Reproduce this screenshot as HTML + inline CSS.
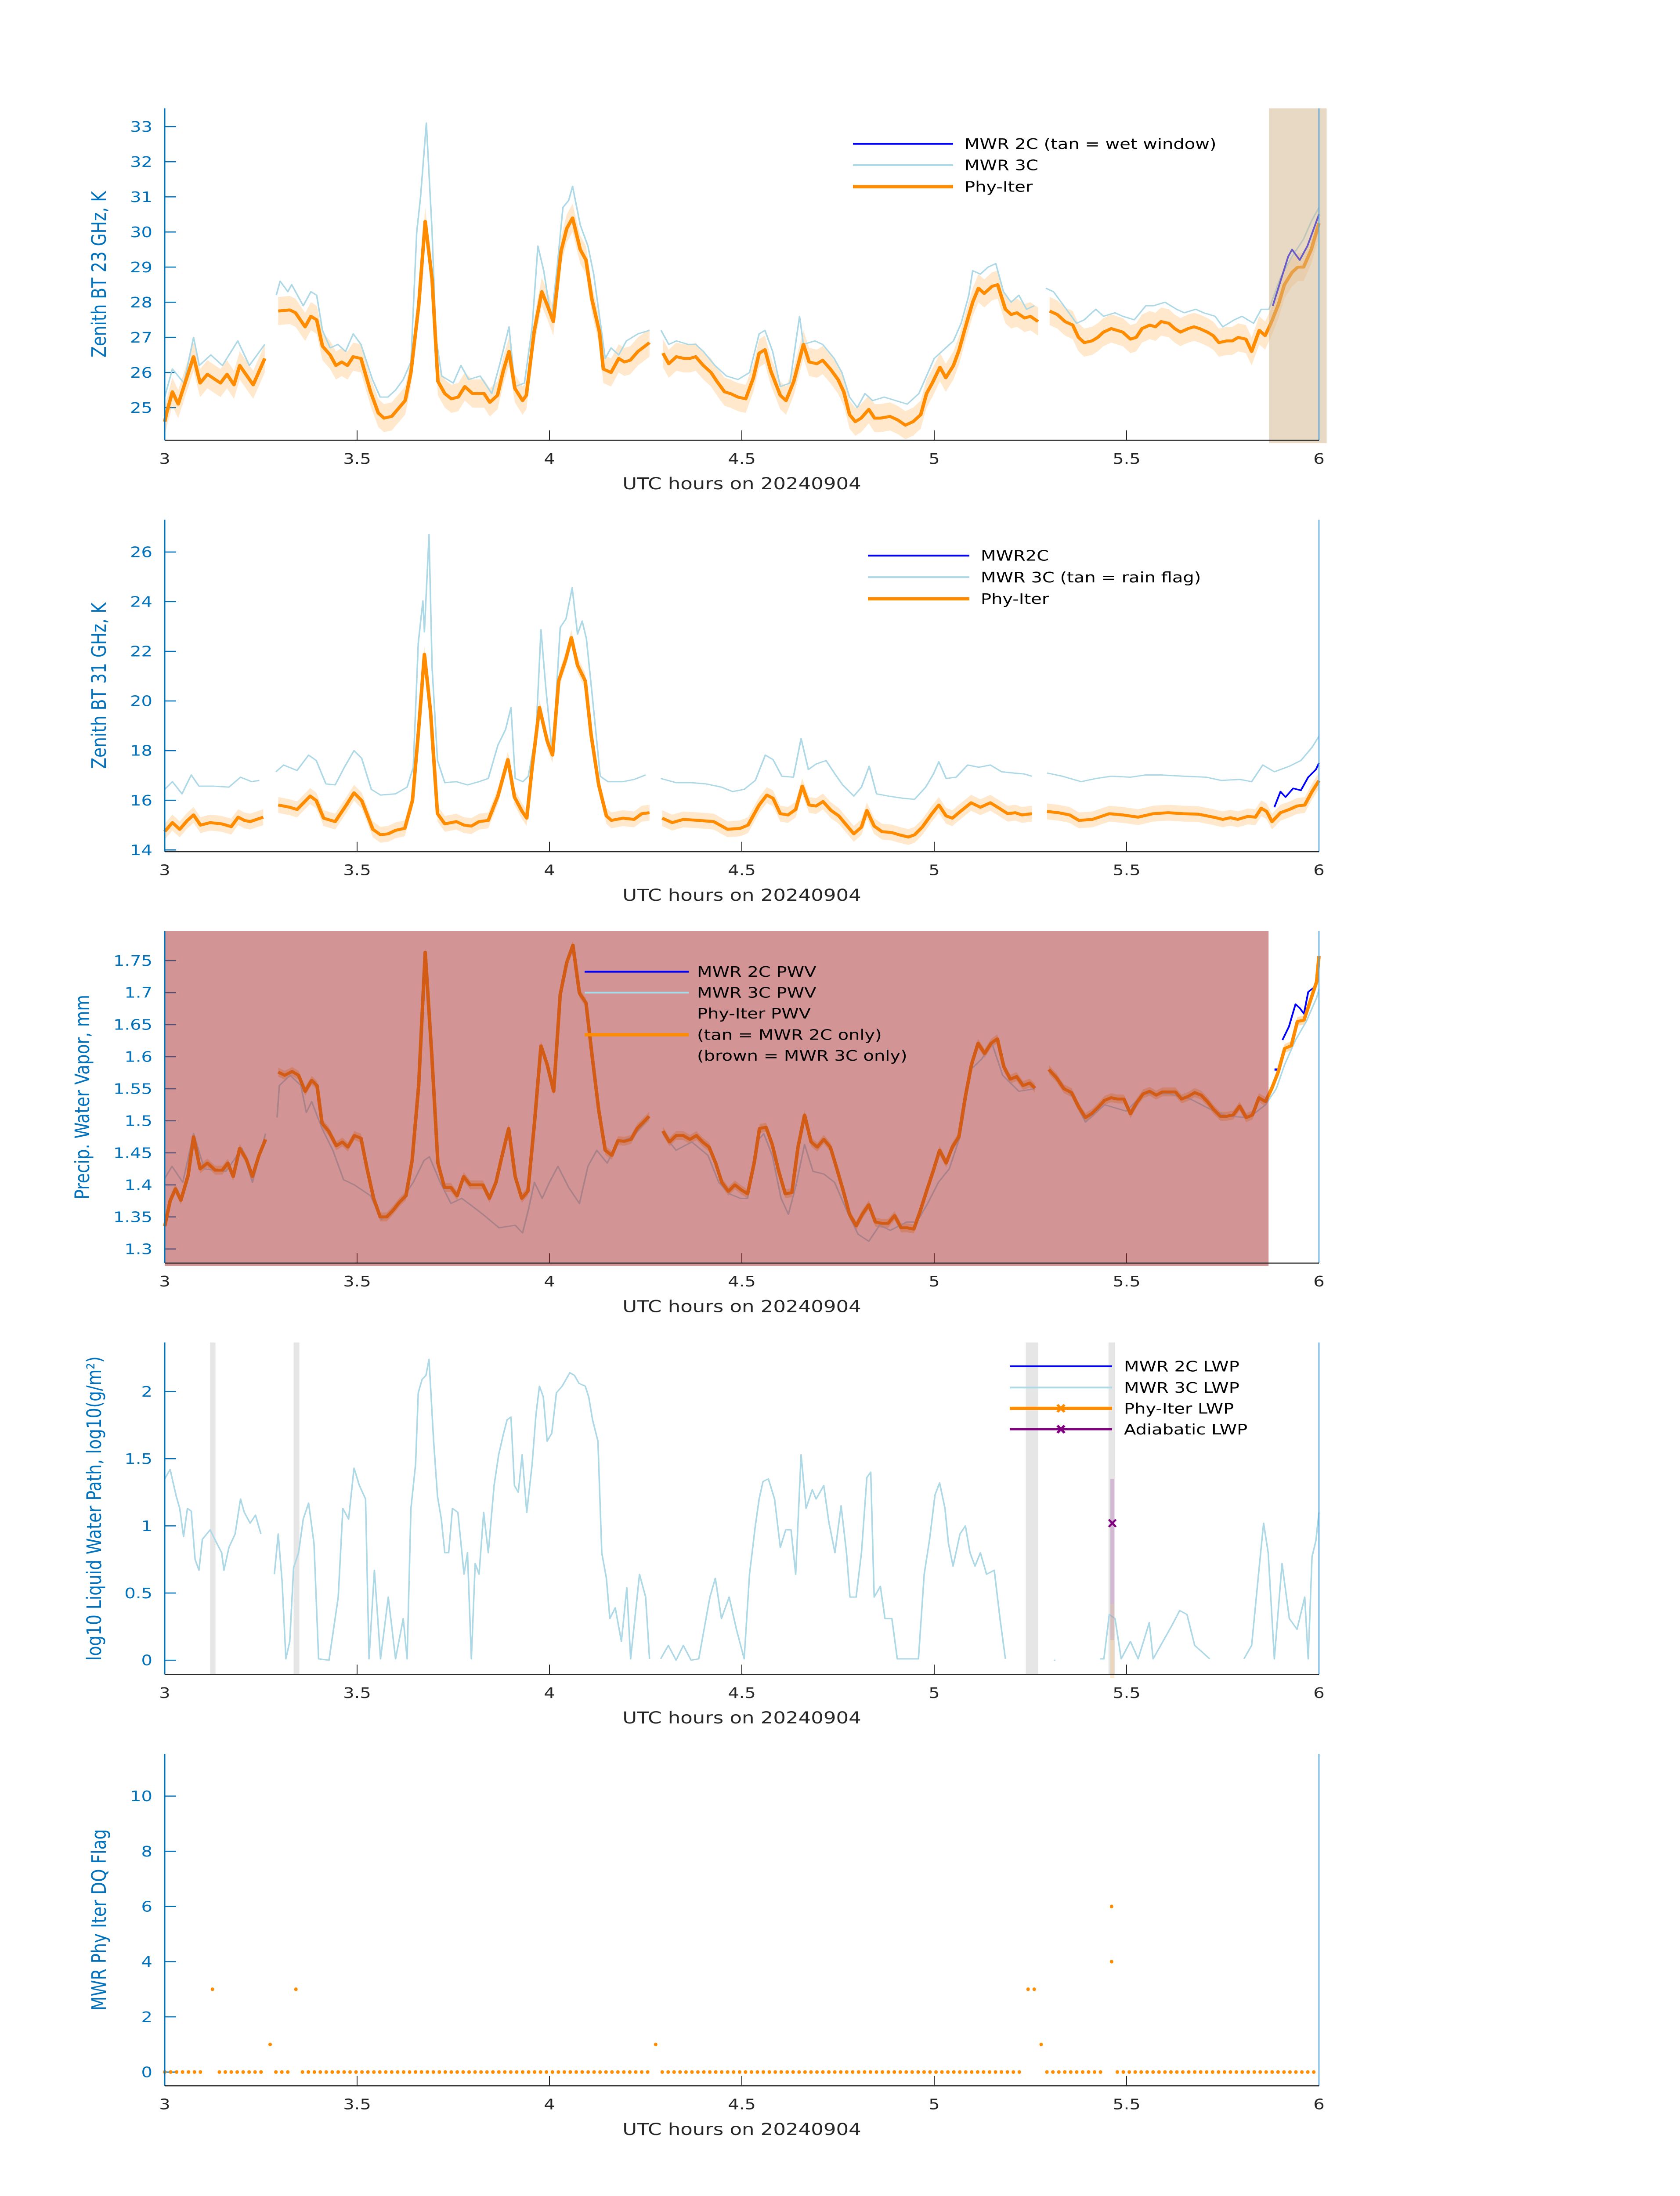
<!DOCTYPE html>
<html><head><meta charset="utf-8"><title>MWR retrieval time series 20240904</title>
<style>
html,body{margin:0;padding:0;background:#fff;width:100%;height:100%;overflow:hidden;}
svg{display:block;width:100vw;height:100vh;font-family:"DejaVu Sans","Liberation Sans",sans-serif;}
</style></head>
<body>
<svg id="fig" xmlns="http://www.w3.org/2000/svg" viewBox="0 0 3825 6000" preserveAspectRatio="none">
<rect x="0" y="0" width="3825" height="6000" fill="#ffffff"/>
</svg>
<script>
// ---------------- DATA ----------------
// Panel 1: 23 GHz BT (K)
const p1PhyT=[3.0,3.005,3.02,3.035,3.075,3.092,3.111,3.145,3.162,3.18,3.195,3.23,3.26,null,3.295,3.325,3.34,3.365,3.38,3.395,3.41,3.43,3.445,3.46,3.475,3.49,3.51,3.535,3.555,3.57,3.59,3.625,3.64,3.66,3.677,3.695,3.71,3.728,3.745,3.763,3.78,3.8,3.83,3.845,3.865,3.88,3.895,3.91,3.93,3.94,3.96,3.98,3.995,4.01,4.03,4.045,4.06,4.08,4.095,4.11,4.13,4.14,4.16,4.18,4.195,4.21,4.23,4.26,null,4.295,4.31,4.33,4.35,4.365,4.38,4.4,4.42,4.435,4.455,4.47,4.49,4.51,4.53,4.545,4.56,4.575,4.6,4.615,4.635,4.66,4.675,4.695,4.71,4.73,4.75,4.765,4.78,4.795,4.81,4.83,4.845,4.86,4.885,4.905,4.925,4.945,4.965,4.98,4.995,5.015,5.03,5.05,5.065,5.08,5.1,5.115,5.13,5.15,5.165,5.185,5.2,5.215,5.235,5.25,5.27,null,5.3,5.32,5.34,5.36,5.375,5.39,5.41,5.425,5.44,5.46,5.475,5.49,5.51,5.525,5.54,5.56,5.575,5.59,5.61,5.625,5.64,5.66,5.675,5.69,5.71,5.725,5.74,5.76,5.775,5.79,5.81,5.825,5.845,5.86,5.875,5.895,5.91,5.93,5.945,5.96,5.98,6.0];
const p1PhyV=[24.6,24.85,25.45,25.1,26.45,25.7,25.95,25.7,25.95,25.65,26.2,25.65,26.4,null,27.75,27.78,27.7,27.3,27.6,27.5,26.75,26.5,26.2,26.3,26.2,26.45,26.4,25.45,24.85,24.7,24.75,25.2,26.0,27.9,30.3,28.65,25.75,25.4,25.25,25.3,25.6,25.4,25.4,25.15,25.35,26.05,26.6,25.55,25.2,25.35,27.15,28.3,27.9,27.45,29.45,30.1,30.4,29.5,29.2,28.1,27.15,26.1,26.0,26.4,26.3,26.35,26.6,26.85,null,26.55,26.25,26.45,26.4,26.4,26.45,26.2,26.0,25.75,25.45,25.4,25.3,25.25,25.85,26.55,26.65,26.05,25.35,25.2,25.75,26.8,26.3,26.25,26.35,26.1,25.8,25.45,24.8,24.6,24.7,24.95,24.7,24.7,24.75,24.65,24.5,24.6,24.8,25.4,25.7,26.15,25.85,26.2,26.65,27.25,28.0,28.4,28.25,28.45,28.5,27.8,27.65,27.7,27.55,27.6,27.45,null,27.75,27.65,27.45,27.35,27.0,26.85,26.9,27.0,27.15,27.25,27.2,27.15,26.95,27.0,27.25,27.35,27.3,27.45,27.4,27.25,27.15,27.25,27.3,27.25,27.15,27.05,26.85,26.9,26.9,27.0,26.95,26.6,27.2,27.05,27.4,27.95,28.5,28.85,29.0,29.0,29.5,30.25];
const p1M3T=[3.0,3.02,3.05,3.075,3.09,3.12,3.15,3.19,3.22,3.26,null,3.29,3.3,3.32,3.33,3.36,3.38,3.395,3.41,3.43,3.45,3.47,3.49,3.51,3.54,3.56,3.58,3.6,3.62,3.64,3.655,3.665,3.68,3.695,3.705,3.72,3.75,3.77,3.79,3.82,3.85,3.87,3.895,3.91,3.935,3.955,3.97,3.985,4.005,4.02,4.035,4.05,4.06,4.08,4.1,4.115,4.13,4.145,4.16,4.18,4.2,4.23,4.26,null,4.29,4.31,4.33,4.36,4.38,4.4,4.43,4.46,4.49,4.52,4.545,4.56,4.58,4.6,4.625,4.65,4.66,4.69,4.71,4.74,4.76,4.78,4.8,4.82,4.84,4.87,4.9,4.93,4.96,4.98,5.0,5.02,5.05,5.07,5.09,5.1,5.12,5.14,5.16,5.18,5.2,5.22,5.24,5.26,null,5.29,5.31,5.33,5.35,5.37,5.39,5.42,5.44,5.47,5.49,5.52,5.55,5.57,5.6,5.63,5.65,5.68,5.7,5.73,5.75,5.78,5.8,5.83,5.85,5.87,5.9,5.93,5.96,5.98,6.0];
const p1M3V=[25.3,26.1,25.7,27.0,26.2,26.5,26.2,26.9,26.2,26.8,null,28.2,28.6,28.3,28.5,27.9,28.3,28.2,27.2,26.7,26.8,26.6,27.1,26.8,25.8,25.3,25.3,25.5,25.8,26.3,30.0,31.0,33.1,30.0,27.0,25.9,25.7,26.2,25.8,25.9,25.4,26.2,27.3,25.6,25.7,27.3,29.6,28.9,27.5,29.0,30.7,30.9,31.3,30.2,29.6,28.8,27.6,26.4,26.7,26.5,26.9,27.1,27.2,null,27.2,26.8,26.9,26.8,26.8,26.6,26.2,25.9,25.8,26.0,27.1,27.2,26.6,25.6,25.7,27.6,26.8,26.9,26.8,26.4,26.0,25.3,25.0,25.4,25.2,25.3,25.2,25.1,25.4,25.9,26.4,26.6,26.9,27.4,28.2,28.9,28.8,29.0,29.1,28.3,28.0,28.2,27.8,27.9,null,28.4,28.3,28.0,27.7,27.4,27.5,27.8,27.6,27.7,27.6,27.5,27.9,27.9,28.0,27.8,27.7,27.8,27.7,27.6,27.3,27.5,27.6,27.4,27.8,27.8,28.7,29.3,29.8,30.3,30.7];
const p1M2T=[5.88,5.9,5.92,5.93,5.95,5.97,6.0];
const p1M2V=[27.9,28.6,29.3,29.5,29.2,29.6,30.5];
const p1WetWin=[5.87,6.02];

// Panel 2: 31 GHz BT (K)
const p2PhyT=[3.0,3.02,3.039,3.059,3.075,3.093,3.118,3.148,3.173,3.191,3.207,3.222,3.256,null,3.295,3.325,3.344,3.378,3.394,3.413,3.443,3.472,3.492,3.512,3.541,3.561,3.581,3.6,3.624,3.644,3.659,3.675,3.691,3.709,3.728,3.758,3.778,3.797,3.817,3.841,3.866,3.892,3.909,3.929,3.941,3.955,3.974,3.994,4.008,4.024,4.043,4.057,4.073,4.093,4.108,4.128,4.148,4.161,4.191,4.22,4.24,4.26,null,4.293,4.319,4.348,4.388,4.427,4.463,4.496,4.516,4.545,4.565,4.581,4.6,4.62,4.64,4.657,4.675,4.693,4.711,4.732,4.752,4.772,4.791,4.811,4.825,4.844,4.864,4.89,4.909,4.933,4.949,4.969,4.994,5.012,5.031,5.047,5.071,5.096,5.12,5.146,5.169,5.191,5.211,5.228,5.254,null,5.293,5.323,5.352,5.376,5.411,5.455,5.49,5.53,5.569,5.608,5.648,5.687,5.726,5.75,5.77,5.789,5.815,5.835,5.85,5.864,5.878,5.9,5.923,5.943,5.963,5.982,6.0];
const p2PhyV=[14.74,15.1,14.83,15.19,15.41,15.0,15.1,15.05,14.94,15.32,15.19,15.14,15.32,null,15.81,15.72,15.63,16.17,15.99,15.28,15.14,15.81,16.3,15.99,14.83,14.61,14.65,14.79,14.87,15.99,18.67,21.88,19.56,15.46,15.05,15.14,15.0,14.96,15.14,15.19,16.17,17.64,16.13,15.55,15.28,17.33,19.74,18.4,17.82,20.81,21.71,22.55,21.44,20.81,18.67,16.62,15.37,15.19,15.28,15.23,15.46,15.5,null,15.28,15.1,15.23,15.19,15.14,14.83,14.87,15.0,15.81,16.21,16.08,15.46,15.41,15.63,16.57,15.81,15.77,15.95,15.59,15.37,15.0,14.65,14.92,15.59,14.96,14.74,14.7,14.61,14.52,14.61,14.92,15.46,15.81,15.37,15.28,15.59,15.9,15.72,15.9,15.68,15.46,15.5,15.41,15.46,null,15.55,15.5,15.41,15.19,15.23,15.46,15.41,15.32,15.46,15.5,15.46,15.44,15.32,15.23,15.3,15.23,15.35,15.32,15.68,15.55,15.14,15.5,15.63,15.77,15.81,16.35,16.79];
const p2M3T=[3.0,3.02,3.045,3.069,3.089,3.128,3.167,3.197,3.226,3.246,null,3.289,3.309,3.344,3.374,3.394,3.419,3.443,3.467,3.492,3.512,3.537,3.561,3.6,3.63,3.646,3.659,3.671,3.675,3.687,3.695,3.709,3.728,3.758,3.787,3.817,3.841,3.866,3.886,3.9,3.911,3.931,3.945,3.965,3.978,3.99,4.008,4.028,4.043,4.059,4.073,4.085,4.096,4.112,4.132,4.152,4.191,4.22,4.25,null,4.289,4.329,4.368,4.407,4.447,4.476,4.506,4.535,4.561,4.581,4.604,4.634,4.654,4.673,4.693,4.719,4.742,4.762,4.791,4.811,4.831,4.85,4.88,4.919,4.949,4.978,4.998,5.012,5.031,5.057,5.087,5.116,5.146,5.175,5.205,5.234,5.254,null,5.293,5.333,5.382,5.421,5.461,5.51,5.549,5.589,5.648,5.707,5.746,5.795,5.825,5.854,5.884,5.923,5.953,5.982,6.0];
const p2M3V=[16.44,16.75,16.26,17.02,16.57,16.57,16.53,16.93,16.75,16.8,null,17.15,17.42,17.2,17.82,17.6,16.66,16.62,17.33,18.0,17.69,16.44,16.21,16.26,16.53,17.33,22.33,24.03,22.78,26.7,21.35,17.6,16.71,16.75,16.62,16.75,16.88,18.22,18.85,19.74,16.88,16.75,16.97,18.67,22.87,20.63,17.78,22.96,23.31,24.56,22.69,23.22,22.51,20.1,16.97,16.75,16.75,16.84,17.02,null,16.88,16.71,16.71,16.66,16.53,16.35,16.44,16.8,17.82,17.64,16.97,16.93,18.49,17.24,17.46,17.6,17.06,16.62,16.17,16.53,17.37,16.26,16.17,16.08,16.04,16.53,17.06,17.55,16.88,16.93,17.42,17.33,17.42,17.15,17.1,17.06,16.97,null,17.1,16.97,16.75,16.88,16.97,16.93,17.02,17.02,16.97,16.93,16.8,16.84,16.75,17.42,17.15,17.37,17.6,18.13,18.58];
const p2M2T=[5.884,5.9,5.913,5.933,5.953,5.972,5.992,6.0];
const p2M2V=[15.72,16.35,16.13,16.48,16.4,16.93,17.24,17.5];

// Panel 3: PWV (mm)
const p3PhyT=[3.0,3.014,3.028,3.042,3.061,3.075,3.092,3.111,3.131,3.15,3.164,3.178,3.195,3.212,3.228,3.245,3.262,null,3.295,3.312,3.331,3.348,3.365,3.382,3.396,3.409,3.426,3.446,3.462,3.476,3.493,3.51,3.526,3.543,3.56,3.577,3.593,3.61,3.627,3.643,3.66,3.677,3.694,3.71,3.727,3.744,3.76,3.777,3.794,3.811,3.827,3.844,3.861,3.877,3.894,3.911,3.928,3.944,3.961,3.978,3.994,4.011,4.028,4.045,4.061,4.078,4.095,4.111,4.128,4.145,4.162,4.178,4.195,4.212,4.228,4.259,null,4.295,4.312,4.329,4.348,4.365,4.382,4.398,4.415,4.432,4.448,4.465,4.482,4.499,4.515,4.532,4.546,4.563,4.579,4.596,4.613,4.63,4.646,4.663,4.68,4.696,4.713,4.73,4.747,4.763,4.78,4.797,4.813,4.83,4.847,4.864,4.88,4.897,4.914,4.93,4.947,4.964,4.981,4.997,5.014,5.031,5.047,5.064,5.081,5.097,5.114,5.131,5.148,5.164,5.181,5.198,5.214,5.231,5.248,5.262,null,5.298,5.318,5.337,5.357,5.376,5.393,5.409,5.426,5.443,5.46,5.476,5.493,5.51,5.526,5.543,5.56,5.577,5.593,5.61,5.627,5.643,5.66,5.677,5.694,5.71,5.727,5.744,5.76,5.777,5.794,5.811,5.827,5.844,5.861,5.877,5.894,5.911,5.928,5.944,5.961,5.978,5.994,6.0];
const p3PhyV=[1.3355,1.375,1.394,1.376,1.415,1.475,1.425,1.434,1.423,1.423,1.434,1.413,1.457,1.44,1.413,1.446,1.471,null,1.576,1.571,1.577,1.571,1.546,1.563,1.555,1.496,1.484,1.461,1.467,1.459,1.477,1.473,1.425,1.379,1.35,1.35,1.36,1.373,1.383,1.438,1.555,1.763,1.605,1.434,1.396,1.396,1.383,1.413,1.40,1.40,1.40,1.379,1.404,1.446,1.488,1.413,1.379,1.39,1.496,1.617,1.588,1.546,1.697,1.747,1.774,1.699,1.684,1.601,1.517,1.454,1.446,1.469,1.468,1.471,1.488,1.507,null,1.484,1.467,1.477,1.477,1.471,1.477,1.467,1.459,1.434,1.404,1.39,1.40,1.392,1.386,1.434,1.488,1.49,1.463,1.421,1.386,1.388,1.459,1.509,1.467,1.459,1.471,1.459,1.425,1.392,1.354,1.336,1.354,1.369,1.342,1.34,1.34,1.352,1.333,1.333,1.331,1.36,1.392,1.421,1.454,1.434,1.459,1.475,1.538,1.588,1.621,1.605,1.621,1.628,1.584,1.565,1.569,1.555,1.559,1.551,null,1.58,1.567,1.55,1.544,1.521,1.505,1.511,1.521,1.532,1.536,1.534,1.534,1.511,1.528,1.542,1.546,1.54,1.545,1.545,1.545,1.534,1.538,1.544,1.54,1.53,1.517,1.507,1.507,1.509,1.523,1.505,1.509,1.536,1.53,1.55,1.576,1.613,1.617,1.655,1.657,1.688,1.717,1.757];
const p3M3T=[3.0,3.019,3.047,3.075,3.103,3.159,3.201,3.228,3.262,null,3.292,3.298,3.326,3.354,3.368,3.382,3.409,3.437,3.465,3.493,3.535,3.563,3.591,3.618,3.646,3.674,3.688,3.716,3.744,3.772,3.799,3.827,3.869,3.911,3.93,3.944,3.961,3.981,4.0,4.022,4.05,4.078,4.1,4.123,4.15,4.178,4.217,4.259,null,4.295,4.329,4.37,4.412,4.44,4.468,4.496,4.515,4.538,4.557,4.579,4.602,4.621,4.641,4.663,4.685,4.713,4.741,4.774,4.802,4.83,4.858,4.886,4.928,4.955,4.983,5.011,5.039,5.067,5.095,5.123,5.15,5.178,5.22,5.262,null,5.298,5.359,5.393,5.443,5.499,5.543,5.61,5.666,5.721,5.763,5.819,5.861,5.889,5.911,5.939,5.967,5.994,6.0];
const p3M3V=[1.41,1.429,1.404,1.48,1.425,1.421,1.457,1.404,1.48,null,1.505,1.555,1.571,1.555,1.513,1.53,1.488,1.454,1.408,1.40,1.383,1.346,1.358,1.379,1.404,1.438,1.444,1.404,1.371,1.379,1.367,1.354,1.333,1.337,1.325,1.358,1.404,1.379,1.404,1.429,1.396,1.371,1.429,1.454,1.434,1.467,1.475,1.505,null,1.48,1.454,1.467,1.446,1.404,1.386,1.379,1.379,1.467,1.48,1.446,1.379,1.354,1.40,1.463,1.421,1.417,1.404,1.358,1.323,1.312,1.337,1.329,1.342,1.342,1.371,1.404,1.425,1.475,1.58,1.596,1.621,1.571,1.546,1.55,null,1.58,1.538,1.498,1.525,1.515,1.542,1.542,1.534,1.517,1.507,1.505,1.525,1.55,1.588,1.626,1.655,1.692,1.705];
const p3M2T=[5.905,5.922,5.939,5.95,5.961,5.972,5.989,5.994,6.0];
const p3M2V=[1.626,1.647,1.682,1.676,1.667,1.701,1.709,1.717,1.742];
const p3M3OnlyWin=[3.0,5.869];

// Panel 4: log10 LWP
const p4M3T=[3.0,3.014,3.03,3.039,3.049,3.059,3.069,3.079,3.089,3.098,3.118,3.132,3.148,3.154,3.167,3.183,3.197,3.207,3.222,3.236,3.25,null,3.285,3.295,3.305,3.315,3.325,3.335,3.348,3.36,3.374,3.388,3.4,3.427,3.451,3.463,3.478,3.492,3.506,3.522,3.531,3.545,3.561,3.581,3.6,3.62,3.63,3.64,3.652,3.659,3.669,3.679,3.687,3.699,3.709,3.719,3.728,3.738,3.748,3.762,3.778,3.787,3.797,3.807,3.817,3.829,3.841,3.856,3.868,3.88,3.89,3.9,3.909,3.919,3.929,3.941,3.955,3.965,3.974,3.984,3.994,4.006,4.018,4.033,4.053,4.065,4.077,4.093,4.102,4.112,4.126,4.136,4.148,4.157,4.171,4.187,4.201,4.211,4.222,4.234,4.25,4.26,null,4.289,4.309,4.329,4.348,4.368,4.388,4.417,4.431,4.447,4.467,4.486,4.506,4.52,4.535,4.545,4.555,4.569,4.585,4.6,4.614,4.628,4.64,4.654,4.667,4.683,4.693,4.713,4.726,4.742,4.758,4.772,4.781,4.797,4.811,4.825,4.835,4.844,4.86,4.872,4.89,4.904,4.959,4.974,4.988,5.002,5.014,5.028,5.037,5.049,5.067,5.081,5.093,5.106,5.12,5.136,5.156,5.171,5.185,null,5.311,5.315,null,5.431,5.441,5.455,5.47,5.486,5.51,5.53,5.559,5.569,5.618,5.638,5.657,5.677,5.716,null,5.805,5.825,5.844,5.856,5.868,5.884,5.904,5.923,5.943,5.963,5.972,5.982,5.992,6.0];
const p4M3V=[1.35,1.42,1.22,1.13,0.92,1.13,1.11,0.75,0.67,0.9,0.97,0.89,0.8,0.67,0.84,0.94,1.2,1.1,1.02,1.08,0.94,null,0.64,0.94,0.59,0.01,0.14,0.69,0.8,1.05,1.17,0.87,0.01,0.0,0.47,1.13,1.05,1.43,1.3,1.2,0.01,0.67,0.01,0.47,0.01,0.31,0.01,1.13,1.46,1.99,2.09,2.12,2.24,1.63,1.22,1.05,0.8,0.8,1.13,1.1,0.64,0.8,0.01,0.72,0.64,1.1,0.8,1.3,1.53,1.68,1.79,1.81,1.3,1.25,1.53,1.1,1.46,1.83,2.04,1.96,1.63,1.69,1.99,2.04,2.14,2.12,2.06,2.04,1.96,1.79,1.63,0.8,0.61,0.31,0.39,0.14,0.54,0.01,0.31,0.64,0.47,0.01,null,0.01,0.11,0.0,0.11,0.0,0.01,0.47,0.61,0.31,0.47,0.23,0.01,0.64,1.0,1.2,1.33,1.35,1.2,0.84,0.97,0.97,0.64,1.53,1.13,1.27,1.2,1.3,1.03,0.8,1.15,0.8,0.47,0.47,0.8,1.36,1.4,0.47,0.55,0.31,0.31,0.01,0.01,0.64,0.9,1.23,1.32,1.13,0.87,0.7,0.94,1.0,0.8,0.7,0.8,0.64,0.67,0.31,0.01,null,0.0,0.0,null,0.01,0.01,0.34,0.31,0.01,0.14,0.01,0.28,0.01,0.26,0.37,0.34,0.11,0.01,null,0.01,0.11,0.67,1.02,0.8,0.01,0.72,0.31,0.23,0.47,0.01,0.77,0.89,1.1];
const p4BadStart=[3.118,3.335,5.238,5.453];
const p4BadEnd=[3.132,3.350,5.270,5.470];
const p4AdiT=[5.463];
const p4AdiV=[1.02];

// Panel 5: DQ flag
const p5ZeroStart=[3.000,3.142,3.289,3.358,4.293,5.293,5.476];
const p5ZeroEnd=[3.108,3.260,3.325,4.260,5.226,5.445,6.000];
const p5SampleStep=0.01547;
const p5FlagT=[3.124,3.341,3.274,4.276,5.244,5.260,5.278,5.461,5.461];
const p5FlagV=[3,3,1,1,3,3,1,6,4];

// ---------------- DRAWING ----------------
const NS='http://www.w3.org/2000/svg';
const svg=document.getElementById('fig');
const X0=375,X1=3003,PH=907;
const BLUEAX='#0072bd';
function sx(t){return X0+(t-3)/3*(X1-X0);}
function mk(tag,attrs,parent){const e=document.createElementNS(NS,tag);for(const k in attrs)e.setAttribute(k,attrs[k]);(parent||svg).appendChild(e);return e;}
function makeY(top,lo,hi){return v=>top+PH-(v-lo)/(hi-lo)*PH;}
function segs(T,V){const out=[];let cur=[];for(let i=0;i<T.length;i++){if(T[i]===null||V[i]===null){if(cur.length)out.push(cur);cur=[];}else cur.push([T[i],V[i]]);}if(cur.length)out.push(cur);return out;}
function linePath(T,V,sy){return segs(T,V).map(s=>'M'+s.map(p=>sx(p[0]).toFixed(1)+','+sy(p[1]).toFixed(1)).join('L')).join('');}
function bandPath(T,V,d,sy){return segs(T,V).map(s=>{const up=s.map(p=>sx(p[0]).toFixed(1)+','+sy(p[1]+d).toFixed(1));const dn=s.slice().reverse().map(p=>sx(p[0]).toFixed(1)+','+sy(p[1]-d).toFixed(1));return 'M'+up.join('L')+'L'+dn.join('L')+'Z';}).join('');}

function axes(g,top,lo,hi,yticks,ylabel,ylabX,fmt){
  const sy=makeY(top,lo,hi);
  yticks.forEach(v=>{
    const y=sy(v);
    const tk=mk('line',{x1:X0,x2:X0+26,y1:y,y2:y,stroke:BLUEAX,'stroke-width':3},g);
    
    
    const tl=mk('text',{x:X0-28,y:y+14,'text-anchor':'end','font-size':40,fill:BLUEAX},g);
    tl.textContent=fmt?fmt(v):String(v);
    
    
  });
  [3,3.5,4,4.5,5,5.5,6].forEach(t=>{
    const x=sx(t);
    const tk=mk('line',{x1:x,x2:x,y1:top+PH,y2:top+PH-27,stroke:'#262626','stroke-width':2},g);
    
    
    const tl=mk('text',{x:x,y:top+PH+64,'text-anchor':'middle','font-size':40,fill:'#262626'},g);
    tl.textContent=String(t);
    
    
  });
  const xl=mk('text',{x:(X0+X1)/2,y:top+PH+134,'text-anchor':'middle','font-size':45,fill:'#262626'},g);
  xl.textContent='UTC hours on 20240904';
  
  
  const cy=top+PH/2;
  const yl=mk('text',{x:ylabX,y:cy,'text-anchor':'middle','font-size':45,fill:BLUEAX,transform:'rotate(-90 '+ylabX+' '+cy+')'},g);
  yl.textContent=ylabel;
  
  
  return sy;
}
function spines(g,top){
  const l=mk('line',{x1:X0,x2:X0,y1:top,y2:top+PH,stroke:BLUEAX,'stroke-width':3},g);
  
  
  const r=mk('line',{x1:X1,x2:X1,y1:top,y2:top+PH,stroke:'#4f9fd8','stroke-width':2.5},g);
  
  
  const b=mk('line',{x1:X0,x2:X1,y1:top+PH,y2:top+PH,stroke:'#262626','stroke-width':3},g);
  
  
}
function legendLine(g,x1,x2,y,color,w,label,tx,name){
  const ln=mk('line',{x1:x1,x2:x2,y1:y,y2:y,stroke:color,'stroke-width':w},g);
  
  
  if(label!==null){
    const t=mk('text',{x:tx,y:y+14,'font-size':40,fill:'#000'},g);
    t.textContent=label;
    
    
  }
}
function legendText(g,tx,y,label,name){
  const t=mk('text',{x:tx,y:y+14,'font-size':40,fill:'#000'},g);
  t.textContent=label;
  
  
}

// ===== Panel 1 =====
(function(){
  const top=296;
  const g=mk('g',{});
  
  
  const sy=axes(g,top,24.07,33.52,[25,26,27,28,29,30,31,32,33],'Zenith BT 23 GHz, K',241);
  const band=mk('path',{d:bandPath(p1PhyT,p1PhyV,0.4,sy),fill:'#ff8c00','fill-opacity':0.2,stroke:'none'},g);
  
  
  const m3=mk('path',{d:linePath(p1M3T,p1M3V,sy),fill:'none',stroke:'#add8e6','stroke-width':3.5,'stroke-linejoin':'round'},g);
  
  
  const m2=mk('path',{d:linePath(p1M2T,p1M2V,sy),fill:'none',stroke:'#0000ff','stroke-width':4,'stroke-linejoin':'round'},g);
  
  
  const ph=mk('path',{d:linePath(p1PhyT,p1PhyV,sy),fill:'none',stroke:'#ff8c00','stroke-width':8,'stroke-linejoin':'round'},g);
  
  
  const ww=mk('rect',{x:sx(p1WetWin[0]),y:top,width:sx(p1WetWin[1])-sx(p1WetWin[0]),height:PH+8,fill:'#d2b48c','fill-opacity':0.5},g);
  
  
  spines(g,top);
  const lg=mk('g',{},g);
  
  
  legendLine(lg,1942,2170,393,'#0000ff',5,'MWR 2C (tan = wet window)',2196,'legend-mwr-2c');
  legendLine(lg,1942,2170,451,'#add8e6',5,'MWR 3C',2196,'legend-mwr-3c');
  legendLine(lg,1942,2170,510,'#ff8c00',9,'Phy-Iter',2196,'legend-phy-iter');
})();

// ===== Panel 2 =====
(function(){
  const top=1420;
  const g=mk('g',{});
  
  
  const sy=axes(g,top,13.93,27.3,[14,16,18,20,22,24,26],'Zenith BT 31 GHz, K',241);
  const band=mk('path',{d:bandPath(p2PhyT,p2PhyV,0.32,sy),fill:'#ff8c00','fill-opacity':0.2,stroke:'none'},g);
  
  
  const m3=mk('path',{d:linePath(p2M3T,p2M3V,sy),fill:'none',stroke:'#add8e6','stroke-width':3.5,'stroke-linejoin':'round'},g);
  
  
  const m2=mk('path',{d:linePath(p2M2T,p2M2V,sy),fill:'none',stroke:'#0000ff','stroke-width':4,'stroke-linejoin':'round'},g);
  
  
  const ph=mk('path',{d:linePath(p2PhyT,p2PhyV,sy),fill:'none',stroke:'#ff8c00','stroke-width':8,'stroke-linejoin':'round'},g);
  
  
  spines(g,top);
  const lg=mk('g',{},g);
  
  
  legendLine(lg,1976,2207,1518,'#0000ff',5,'MWR2C',2233,'legend-mwr-2c');
  legendLine(lg,1976,2207,1577,'#add8e6',5,'MWR 3C (tan = rain flag)',2233,'legend-mwr-3c');
  legendLine(lg,1976,2207,1636,'#ff8c00',9,'Phy-Iter',2233,'legend-phy-iter');
})();

// ===== Panel 3 =====
(function(){
  const top=2544;
  const g=mk('g',{});
  
  
  const sy=axes(g,top,1.278,1.796,[1.3,1.35,1.4,1.45,1.5,1.55,1.6,1.65,1.7,1.75],'Precip. Water Vapor, mm',203);
  const band=mk('path',{d:bandPath(p3PhyT,p3PhyV,0.007,sy),fill:'#ff8c00','fill-opacity':0.3,stroke:'none'},g);
  
  
  const m3=mk('path',{d:linePath(p3M3T,p3M3V,sy),fill:'none',stroke:'#add8e6','stroke-width':3.5,'stroke-linejoin':'round'},g);
  
  
  const m2=mk('path',{d:linePath(p3M2T,p3M2V,sy),fill:'none',stroke:'#0000ff','stroke-width':4,'stroke-linejoin':'round'},g);
  
  
  const dot=mk('rect',{x:sx(5.889)-4,y:sy(1.58)-3,width:10,height:6,fill:'#0000ff'},g);
  
  
  const ph=mk('path',{d:linePath(p3PhyT,p3PhyV,sy),fill:'none',stroke:'#ff8c00','stroke-width':8,'stroke-linejoin':'round'},g);
  
  
  const br=mk('rect',{x:sx(p3M3OnlyWin[0]),y:top,width:sx(p3M3OnlyWin[1])-sx(p3M3OnlyWin[0]),height:PH+8,fill:'#a52a2a','fill-opacity':0.5},g);
  
  
  spines(g,top);
  const lg=mk('g',{},g);
  
  
  legendLine(lg,1331,1568,2655,'#0000ff',5,'MWR 2C PWV',1587,'legend-mwr-2c-pwv');
  legendLine(lg,1331,1568,2712,'#add8e6',5,'MWR 3C PWV',1587,'legend-mwr-3c-pwv');
  legendText(lg,1587,2769,'Phy-Iter PWV','legend-phy-iter-pwv-label');
  legendLine(lg,1331,1568,2827,'#ff8c00',9,'(tan = MWR 2C only)',1587,'legend-phy-iter-pwv');
  legendText(lg,1587,2884,'(brown = MWR 3C only)','legend-brown-note');
})();

// ===== Panel 4 =====
(function(){
  const top=3668;
  const g=mk('g',{});
  
  
  for(let i=0;i<p4BadStart.length;i++){
    const r=mk('rect',{x:sx(p4BadStart[i]),y:top,width:sx(p4BadEnd[i])-sx(p4BadStart[i]),height:PH,fill:'#e6e6e6'},g);
    
    
  }
  const sy=axes(g,top,-0.106,2.365,[0,0.5,1,1.5,2],'log10 Liquid Water Path, log10(g/m²)',230);
  const m3=mk('path',{d:linePath(p4M3T,p4M3V,sy),fill:'none',stroke:'#add8e6','stroke-width':3.5,'stroke-linejoin':'round'},g);
  
  
  const xa=sx(p4AdiT[0]);
  const v1=mk('line',{x1:xa,x2:xa,y1:sy(1.35),y2:sy(0.42),stroke:'#800080','stroke-opacity':0.2,'stroke-width':9},g);
  
  
  const v2=mk('line',{x1:xa,x2:xa,y1:sy(0.42),y2:sy(0.15),stroke:'#b05050','stroke-opacity':0.25,'stroke-width':9},g);
  
  
  const v3=mk('line',{x1:xa,x2:xa,y1:sy(0.15),y2:top+PH+10,stroke:'#ff8c00','stroke-opacity':0.18,'stroke-width':9},g);
  
  
  p4AdiT.forEach((t,i)=>{
    const x=sx(t),y=sy(p4AdiV[i]);
    const m=mk('path',{d:`M${x-8},${y-10}L${x+8},${y+10}M${x+8},${y-10}L${x-8},${y+10}`,stroke:'#800080','stroke-width':5,fill:'none'},g);
    
    
  });
  spines(g,top);
  const lg=mk('g',{},g);
  
  
  legendLine(lg,2299,2532,3733,'#0000ff',5,'MWR 2C LWP',2559,'legend-mwr-2c-lwp');
  legendLine(lg,2299,2532,3791,'#add8e6',5,'MWR 3C LWP',2559,'legend-mwr-3c-lwp');
  legendLine(lg,2299,2532,3848,'#ff8c00',9,'Phy-Iter LWP',2559,'legend-phy-iter-lwp');
  legendLine(lg,2299,2532,3905,'#800080',6,'Adiabatic LWP',2559,'legend-adiabatic-lwp');
  const cx=(2299+2532)/2;
  const mo=mk('path',{d:`M${cx-8},${3838}L${cx+8},${3858}M${cx+8},${3838}L${cx-8},${3858}`,stroke:'#ff8c00','stroke-width':6},lg);
  
  
  const mp=mk('path',{d:`M${cx-8},${3895}L${cx+8},${3915}M${cx+8},${3895}L${cx-8},${3915}`,stroke:'#800080','stroke-width':6},lg);
  
  
})();

// ===== Panel 5 =====
(function(){
  const top=4792;
  const g=mk('g',{});
  
  
  const sy=axes(g,top,-0.5,11.53,[0,2,4,6,8,10],'MWR Phy Iter DQ Flag',241);
  for(let i=0;i<p5ZeroStart.length;i++){
    for(let t=p5ZeroStart[i];t<=p5ZeroEnd[i]+1e-6;t+=p5SampleStep){
      const d=mk('ellipse',{cx:sx(t),cy:sy(0),rx:4,ry:5,fill:'#ff8c00'},g);
      
      
    }
  }
  for(let i=0;i<p5FlagT.length;i++){
    const d=mk('ellipse',{cx:sx(p5FlagT[i]),cy:sy(p5FlagV[i]),rx:4,ry:5,fill:'#ff8c00'},g);
    
    
  }
  spines(g,top);
})();
</script>
</body></html>
